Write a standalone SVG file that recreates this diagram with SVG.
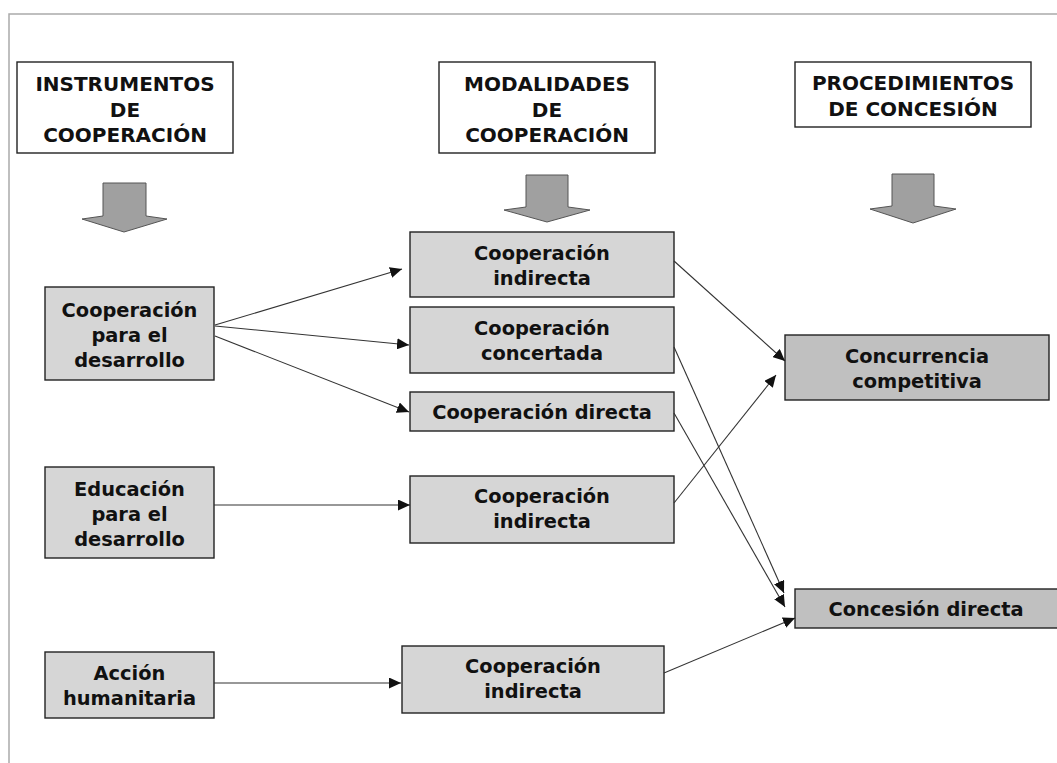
<svg xmlns="http://www.w3.org/2000/svg" width="1057" height="763" viewBox="0 0 1057 763">
<defs>
<marker id="ah" markerUnits="userSpaceOnUse" markerWidth="13" markerHeight="11" refX="12" refY="5.5" orient="auto">
<path d="M0,0 L12,5.5 L0,11 Z" fill="#111"/>
</marker>
</defs>
<style>
.hdr{fill:#fff;stroke:#222;stroke-width:1.4}
.n1{fill:#d6d6d6;stroke:#222;stroke-width:1.4}
.n2{fill:#c0c0c0;stroke:#222;stroke-width:1.4}
.big{fill:#a0a0a0;stroke:#555;stroke-width:1}
text{font-family:"DejaVu Sans",Verdana,sans-serif;font-weight:bold;font-size:19.4px;fill:#111;text-anchor:middle}
.cap{font-size:20px}
.con line{stroke:#333;stroke-width:1.1;fill:none;marker-end:url(#ah)}
</style>
<rect width="1057" height="763" fill="#fff"/>
<path d="M9,763 L9,14 L1057,14" fill="none" stroke="#aaa" stroke-width="1.5"/>

<g id="h1"><rect class="hdr" x="17" y="62" width="216" height="91"/>
<text class="cap" x="125" y="91">INSTRUMENTOS</text><text class="cap" x="125" y="117">DE</text><text class="cap" x="125" y="142">COOPERACIÓN</text></g>
<g id="h2"><rect class="hdr" x="439" y="62" width="216" height="91"/>
<text class="cap" x="547" y="91">MODALIDADES</text><text class="cap" x="547" y="117">DE</text><text class="cap" x="547" y="142">COOPERACIÓN</text></g>
<g id="h3"><rect class="hdr" x="795" y="62" width="236" height="65"/>
<text class="cap" x="913" y="90">PROCEDIMIENTOS</text><text class="cap" x="913" y="116">DE CONCESIÓN</text></g>

<g id="a1"><polygon class="big" points="103,183 146,183 146,216 167,219 124,232 82,219 103,216"/></g>
<g id="a2"><polygon class="big" points="526,175 568,175 568,207 590,210 547,222 504,210 526,207"/></g>
<g id="a3"><polygon class="big" points="892,174 934,174 934,206 956,209 913,223 870,209 892,206"/></g>

<g id="l1"><rect class="n1" x="45" y="287" width="169" height="93"/>
<text x="129.5" y="317">Cooperación</text><text x="129.5" y="342">para el</text><text x="129.5" y="367">desarrollo</text></g>
<g id="l2"><rect class="n1" x="45" y="467" width="169" height="91"/>
<text x="129.5" y="496">Educación</text><text x="129.5" y="521">para el</text><text x="129.5" y="546">desarrollo</text></g>
<g id="l3"><rect class="n1" x="45" y="652" width="169" height="66"/>
<text x="129.5" y="680">Acción</text><text x="129.5" y="705">humanitaria</text></g>

<g id="m1"><rect class="n1" x="410" y="232" width="264" height="65"/>
<text x="542" y="260">Cooperación</text><text x="542" y="285">indirecta</text></g>
<g id="m2"><rect class="n1" x="410" y="307" width="264" height="66"/>
<text x="542" y="335">Cooperación</text><text x="542" y="360">concertada</text></g>
<g id="m3"><rect class="n1" x="410" y="392" width="264" height="39"/>
<text x="542" y="419">Cooperación directa</text></g>
<g id="m4"><rect class="n1" x="410" y="476" width="264" height="67"/>
<text x="542" y="503">Cooperación</text><text x="542" y="528">indirecta</text></g>
<g id="m5"><rect class="n1" x="402" y="646" width="262" height="67"/>
<text x="533" y="673">Cooperación</text><text x="533" y="698">indirecta</text></g>

<g id="r1"><rect class="n2" x="785" y="335" width="264" height="65"/>
<text x="917" y="363">Concurrencia</text><text x="917" y="388">competitiva</text></g>
<g id="r2"><rect class="n2" x="795" y="589" width="263" height="39"/>
<text x="926" y="616">Concesión directa</text></g>

<g id="connectors" class="con">
<line x1="215" y1="325" x2="402" y2="269"/>
<line x1="215" y1="326" x2="409" y2="345"/>
<line x1="215" y1="336" x2="409" y2="412"/>
<line x1="214" y1="505" x2="410" y2="505"/>
<line x1="214" y1="683" x2="401" y2="683"/>
<line x1="674" y1="261" x2="785" y2="361"/>
<line x1="674" y1="347" x2="784" y2="593"/>
<line x1="674" y1="413" x2="785" y2="607"/>
<line x1="674" y1="503" x2="776" y2="375"/>
<line x1="664" y1="673" x2="795" y2="618"/>
</g>
</svg>
